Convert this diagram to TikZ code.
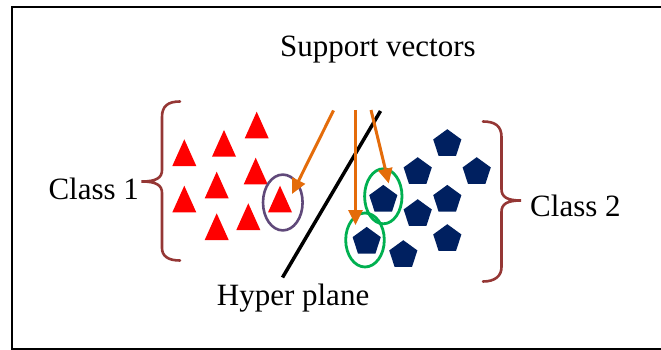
\documentclass[tikz,border=0pt]{standalone}
\usepackage{fontspec}
\setmainfont{Liberation Serif}
\newfontfamily\timesx{Liberation Serif}
\usetikzlibrary{arrows.meta}
\definecolor{bracecol}{RGB}{149,55,53}
\definecolor{navyblue}{RGB}{0,32,96}
\definecolor{svgreen}{RGB}{0,176,80}
\definecolor{svpurple}{RGB}{96,73,122}
\definecolor{arrorange}{RGB}{228,108,10}
\tikzset{
  lbl/.style={inner sep=0pt, anchor=base west, font=\timesx\fontsize{31}{36}\selectfont},
  bracestyle/.style={draw=bracecol, line width=2.6pt, line cap=round},
  tri/.style={fill=red},
  pent/.style={fill=navyblue},
  svarrow/.style={draw=arrorange, line width=3pt, -{Triangle[length=15pt,width=14pt]}},
  ringgreen/.style={draw=svgreen, line width=2.8pt},
  ringpurple/.style={draw=svpurple, line width=2.6pt},
  hyper/.style={draw=black, line width=3.5pt}
}
\begin{document}
\begin{tikzpicture}[x=1pt,y=-1pt]
\useasboundingbox (0,0) rectangle (661,350);
\begin{scope}
\clip (0,0) rectangle (661,350);
\draw[line width=2.2pt] (12.3,7) rectangle (680,348.6);
\end{scope}

% texts
\node[lbl] (sv) at (280,56.5) {Support vectors};
\node[lbl] (c1) at (48.3,199) {Class 1};
\node[lbl] (c2) at (530,216) {Class 2};
\node[lbl] (hp) at (216.7,305) {Hyper plane};

% braces
\draw[bracestyle] (180,101.5) .. controls (168,101.5) and (162,106) .. (162,117)
  -- (162,170) .. controls (162,178) and (156,181.5) .. (141.5,181.5)
  .. controls (156,181.5) and (162,185) .. (162,193)
  -- (162,248) .. controls (162,256) and (168,260.5) .. (180,260.5);
\draw[bracestyle] (483,121.5) .. controls (495,121.5) and (501.5,126) .. (501.5,137)
  -- (501.5,189) .. controls (501.5,197) and (507,200.5) .. (521,200.5)
  .. controls (507,200.5) and (501.5,204) .. (501.5,212)
  -- (501.5,267) .. controls (501.5,276) and (495,281.5) .. (483,281.5);

% class 1 triangles
\foreach \x/\y in {256.7/111.7, 224/130, 184.3/139.3, 255.7/157.7, 216.7/171.7,
                   184.3/185.7, 280/185.7, 248.3/203.3, 216.7/213.3}
  \fill[tri] (\x,\y) -- ++(-12,26.7) -- ++(24,0) -- cycle;

% class 2 pentagons
\foreach \x/\y in {447.3/144, 417.7/172, 476.7/172, 383.3/199.7, 447.3/199.7,
                   417.7/214, 366.7/241.7, 447.3/239, 403.3/255}
  \fill[pent] (\x,\y) +(-90:14.8) -- +(-18:14.8) -- +(54:14.8) -- +(126:14.8) -- +(198:14.8) -- cycle;

% hyperplane
\coordinate (hptop) at (380.5,111);
\coordinate (hpbot) at (282.5,277.5);
\draw[hyper] (hptop) -- (hpbot);

% support vector rings
\coordinate (ring1) at (282.8,202.5);
\coordinate (ring2) at (383.3,196.3);
\coordinate (ring3) at (365,240);
\draw[ringpurple] (ring1) ellipse [x radius=19.8, y radius=27.9];
\draw[ringgreen] (ring2) ellipse [x radius=18.7, y radius=27.5];
\draw[ringgreen] (ring3) ellipse [x radius=19.3, y radius=27];

% arrows
\coordinate (a1s) at (333.5,110.5);
\coordinate (a1e) at (292,194);
\coordinate (a2s) at (355.5,110);
\coordinate (a2e) at (355.5,225);
\coordinate (a3s) at (371,110);
\coordinate (a3e) at (388.8,183.5);
\draw[svarrow] (a1s) -- (a1e);
\draw[svarrow] (a2s) -- (a2e);
\draw[svarrow] (a3s) -- (a3e);
\end{tikzpicture}
\end{document}
